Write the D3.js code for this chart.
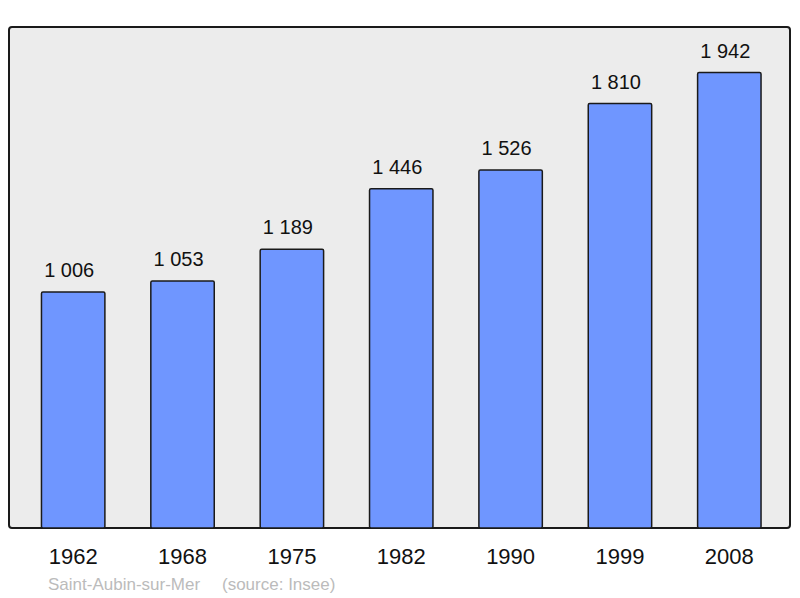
<!DOCTYPE html>
<html>
<head>
<meta charset="utf-8">
<script src="https://d3js.org/d3.v7.min.js"></script>
<style>
  body { margin: 0; background: #fff; }
  text { font-family: "Liberation Sans", Arial, sans-serif; }
</style>
</head>
<body>
<svg width="800" height="598"></svg>
<script>
// data
var years = ["1962", "1968", "1975", "1982", "1990", "1999", "2008"];
var population = [1006, 1053, 1189, 1446, 1526, 1810, 1942];
var valueLabels = ["1 006", "1 053", "1 189", "1 446", "1 526", "1 810", "1 942"];
var town = "Saint-Aubin-sur-Mer";
var source = "(source: Insee)";

var svg = d3.select("svg");

// plot frame
svg.append("rect")
    .attr("x", 9).attr("y", 27)
    .attr("width", 781).attr("height", 501)
    .attr("rx", 3)
    .style("fill", "#ececec")
    .style("stroke", "#1a1a1a")
    .style("stroke-width", 2);

var x = d3.scaleBand()
    .domain(years)
    .range([18.5, 784])
    .paddingInner(0.42)
    .paddingOuter(0.21);

var y = d3.scaleLinear()
    .domain([0, d3.max(population) * 1.1])
    .range([528, 27]);

var rows = years.map(function(d, i) { return {year: d, value: population[i], label: valueLabels[i]}; });

svg.selectAll(".bar")
    .data(rows)
    .enter().append("rect")
    .attr("class", "bar")
    .attr("x", d => x(d.year))
    .attr("y", d => y(d.value))
    .attr("width", x.bandwidth())
    .attr("height", d => y(0) - y(d.value))
    .attr("rx", 1.5)
    .style("fill", "#6f96ff")
    .style("stroke", "#1a1a1a")
    .style("stroke-width", 1.5);

svg.selectAll(".val")
    .data(rows)
    .enter().append("text")
    .attr("class", "val")
    .attr("x", d => x(d.year) + x.bandwidth() / 2 - 4)
    .attr("y", d => y(d.value) - 15)
    .attr("text-anchor", "middle")
    .style("font-size", "20px")
    .style("fill", "#111")
    .text(d => d.label);

// x axis labels
var axis = d3.axisBottom(x).tickSize(0).tickPadding(0);
var g = svg.append("g").attr("transform", "translate(0,548)").call(axis);
g.select(".domain").remove();
g.selectAll("text")
    .attr("dy", "0.71em")
    .style("font-size", "22px")
    .style("font-family", "'Liberation Sans', Arial, sans-serif")
    .style("fill", "#111");

// footer
svg.append("text")
    .attr("x", 48).attr("y", 590)
    .style("font-size", "17px")
    .style("fill", "#bbbbbb")
    .text(town);
svg.append("text")
    .attr("x", 222).attr("y", 590)
    .style("font-size", "17px")
    .style("fill", "#bbbbbb")
    .text(source);
</script>
</body>
</html>
